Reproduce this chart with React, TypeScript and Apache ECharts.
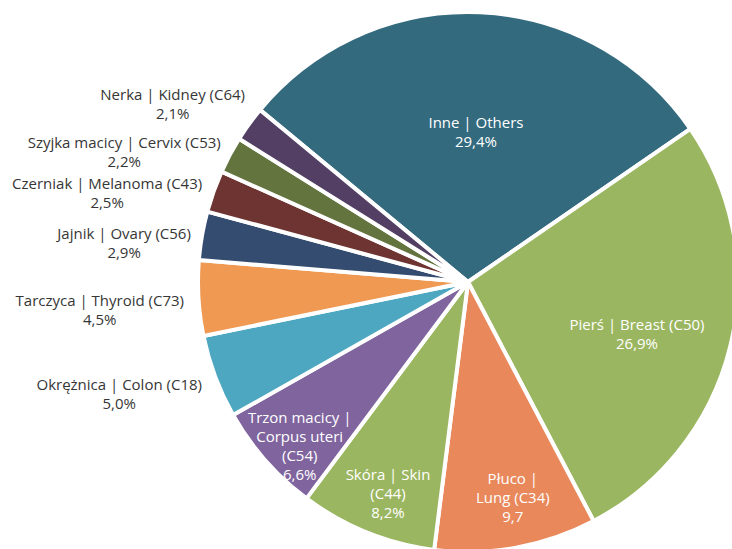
import React, { useEffect, useRef } from "react";
import * as echarts from "echarts";

// ---- data ----
const categories = [
  "Inne | Others",
  "Pierś | Breast (C50)",
  "Płuco | Lung (C34)",
  "Skóra | Skin (C44)",
  "Trzon macicy | Corpus uteri (C54)",
  "Okrężnica | Colon (C18)",
  "Tarczyca | Thyroid (C73)",
  "Jajnik | Ovary (C56)",
  "Czerniak | Melanoma (C43)",
  "Szyjka macicy | Cervix (C53)",
  "Nerka | Kidney (C64)",
];
const values = [29.4, 26.9, 9.7, 8.2, 6.6, 5.0, 4.5, 2.9, 2.5, 2.2, 2.1];
const labelNames = [
  "Inne | Others",
  "Pierś | Breast (C50)",
  "Płuco |\nLung (C34)",
  "Skóra | Skin\n(C44)",
  "Trzon macicy |\nCorpus uteri\n(C54)",
  "Okrężnica | Colon (C18)",
  "Tarczyca | Thyroid (C73)",
  "Jajnik | Ovary (C56)",
  "Czerniak | Melanoma (C43)",
  "Szyjka macicy | Cervix (C53)",
  "Nerka | Kidney (C64)",
];
const valueSuffixes = ["%", "%", "", "%", "%", "%", "%", "%", "%", "%", "%"];

// ---- styles ----
const colors = [
  "#336a7e",
  "#9bb660",
  "#e9885a",
  "#9bb660",
  "#7f649e",
  "#4da7c0",
  "#ef9953",
  "#344c70",
  "#6d3431",
  "#64743f",
  "#533f63",
];
const labelInside = [true, true, true, true, true, false, false, false, false, false, false];
const labelRadius = [0.558, 0.654, 0.814, 0.836, 0.868, 1.069, 1.057, 1.037, 1.039, 1.036, 1.057];
const labelAngleShift = [-0.5, -3.0, 1.5, 1.2, 2.7, 2.3, 2.2, 1.7, 1.0, 0.2, -2.8];

const CX = 468;
const CY = 282;
const RADIUS = 270;
const START_ANGLE = 140.4;
const FONT = "'Open Sans', 'Noto Sans', sans-serif";

export default function App() {
  const ref = useRef<HTMLDivElement>(null);

  useEffect(() => {
    if (!ref.current) return;
    const chart = echarts.init(ref.current, undefined, { renderer: "svg" });

    const total = values.reduce((a, b) => a + b, 0);
    const mids: number[] = [];
    let acc = START_ANGLE;
    values.forEach((v) => {
      const span = (v / total) * 360;
      mids.push(acc - span / 2);
      acc -= span;
    });

    const data = categories.map((name, i) => ({
      name,
      value: values[i],
      itemStyle: { color: colors[i] },
      label: {
        position: labelInside[i] ? "inside" : "outside",
        color: labelInside[i] ? "#ffffff" : "#363636",
      },
      labelLine: { show: false },
    }));

    chart.setOption({
      animation: false,
      backgroundColor: "#ffffff",
      series: [
        {
          type: "pie",
          center: [CX, CY],
          radius: [0, RADIUS],
          startAngle: START_ANGLE,
          clockwise: true,
          avoidLabelOverlap: false,
          data,
          itemStyle: { borderColor: "#ffffff", borderWidth: 4 },
          emphasis: { disabled: true },
          label: {
            show: true,
            fontFamily: FONT,
            fontSize: 15,
            lineHeight: 19,
            formatter: (p: any) =>
              labelNames[p.dataIndex] +
              "\n" +
              values[p.dataIndex].toFixed(1).replace(".", ",") +
              valueSuffixes[p.dataIndex],
          },
          labelLine: { show: false },
          labelLayout: (params: any) => {
            const i = params.dataIndex;
            const a = ((mids[i] + labelAngleShift[i]) * Math.PI) / 180;
            const r = RADIUS * labelRadius[i];
            const px = CX + r * Math.cos(a);
            const py = CY - r * Math.sin(a);
            if (labelInside[i]) {
              return { x: px, y: py, align: "center", verticalAlign: "middle" };
            }
            const w = params.labelRect ? params.labelRect.width : 0;
            return { x: px - w / 2, y: py, align: "center", verticalAlign: "middle" };
          },
        },
      ],
    });

    return () => chart.dispose();
  }, []);

  return (
    <div
      ref={ref}
      style={{ position: "absolute", left: 0, top: 0, width: 732, height: 549 }}
    />
  );
}
